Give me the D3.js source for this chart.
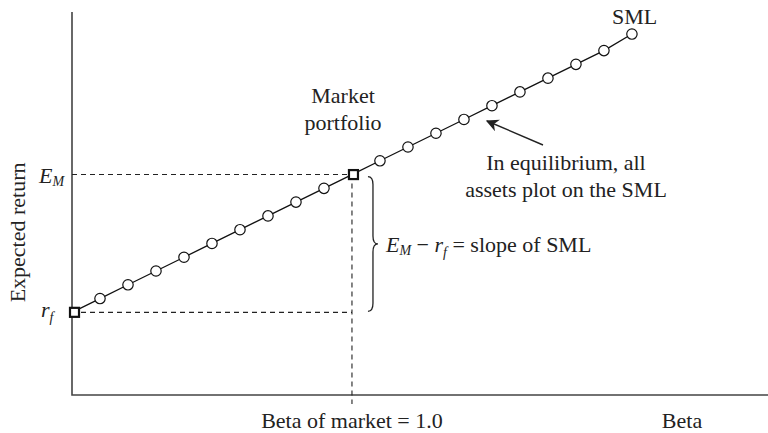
<!DOCTYPE html>
<html>
<head>
<meta charset="utf-8">
<title>Security Market Line</title>
<script src="https://d3js.org/d3.v7.min.js"></script>
<style>
  body { margin: 0; background: #fff; }
  svg { display: block; font-family: "Liberation Serif", "DejaVu Serif", serif; }
  .axis { stroke: #444; stroke-width: 1.6px; fill: none; }
  .guide { stroke: #222; stroke-width: 1.1px; stroke-dasharray: 5,4; fill: none; }
  .sml { stroke: #111; stroke-width: 1.3px; fill: none; }
  .asset { fill: #fff; stroke: #111; stroke-width: 1.2px; }
  .key { fill: #fff; stroke: #111; stroke-width: 2.2px; }
  text { fill: #222; font-size: 22px; }
</style>
</head>
<body>
<svg id="chart"></svg>
<script>
// values (arbitrary units)
const riskFree = 3;
const marketReturn = 8;
const marketBeta = 1.0;
const betas = [0, 0.1, 0.2, 0.3, 0.4, 0.5, 0.6, 0.7, 0.8, 0.9, 1.0,
               1.1, 1.2, 1.3, 1.4, 1.5, 1.6, 1.7, 1.8, 1.9, 2.0];
const returns = [3, 3.5, 4, 4.5, 5, 5.5, 6, 6.5, 7, 7.5, 8,
                 8.5, 9, 9.5, 10, 10.5, 11, 11.5, 12, 12.5, 13.1];

const width = 768, height = 433;
const svg = d3.select("#chart").attr("width", width).attr("height", height);

const x = d3.scaleLinear().domain([0, 2.486]).range([72, 768]);
const y = d3.scaleLinear().domain([0, 13.9]).range([395, 12]);

const pts = betas.map((b, i) => ({ beta: b, ret: returns[i] }));

// axes
svg.append("path").attr("class", "axis")
  .attr("d", `M${x(0)},${y(13.9)} V${y(0)} H${x(2.486)}`);

// dashed guides
svg.append("path").attr("class", "guide")
  .attr("d", `M${x(0)},${y(marketReturn)} H${x(marketBeta)}`);
svg.append("path").attr("class", "guide")
  .attr("d", `M${x(0)},${y(riskFree)} H${x(marketBeta)}`);
svg.append("path").attr("class", "guide")
  .attr("d", `M${x(marketBeta)},${y(marketReturn)} V${y(0) + 9}`);

// SML line
svg.append("path").attr("class", "sml")
  .attr("d", d3.line().x(d => x(d.beta)).y(d => y(d.ret))(pts));

// asset circles
svg.selectAll("circle.asset")
  .data(pts.filter(d => d.beta !== 0 && d.beta !== marketBeta))
  .enter().append("circle")
  .attr("class", "asset")
  .attr("cx", d => x(d.beta))
  .attr("cy", d => y(d.ret))
  .attr("r", 5.2);

// squares for r_f and market portfolio
svg.selectAll("rect.key")
  .data(pts.filter(d => d.beta === 0 || d.beta === marketBeta))
  .enter().append("rect")
  .attr("class", "key")
  .attr("x", d => x(d.beta) - 4 + (d.beta === 0 ? 2 : 1))
  .attr("y", d => y(d.ret) - 4.5)
  .attr("width", 9)
  .attr("height", 9);

// y axis labels
const em = svg.append("text").attr("x", 39).attr("y", y(marketReturn) + 8)
  .style("font-style", "italic");
em.append("tspan").text("E");
em.append("tspan").attr("dy", 3).style("font-size", "14px").text("M");

const rf = svg.append("text").attr("x", 41).attr("y", y(riskFree) + 5)
  .style("font-style", "italic");
rf.append("tspan").text("r");
rf.append("tspan").attr("dy", 5).style("font-size", "14px").text("f");

svg.append("text")
  .attr("transform", `translate(25,${y(5.9)}) rotate(-90)`)
  .attr("text-anchor", "middle")
  .text("Expected return");

// x axis labels
svg.append("text").attr("x", x(marketBeta)).attr("y", 428)
  .attr("text-anchor", "middle").text("Beta of market = 1.0");
svg.append("text").attr("x", 682).attr("y", 428)
  .attr("text-anchor", "middle").text("Beta");

// SML label
svg.append("text").attr("x", 612).attr("y", 24).text("SML");

// market portfolio label
svg.append("text").attr("x", 343).attr("y", 103).attr("text-anchor", "middle").text("Market");
svg.append("text").attr("x", 343).attr("y", 130).attr("text-anchor", "middle").text("portfolio");

// curly brace
const bx = x(marketBeta) + 16;
const yt = y(marketReturn) + 2, yb = y(riskFree) - 1, ym = (yt + yb) / 2;
svg.append("path")
  .attr("fill", "none").attr("stroke", "#222").attr("stroke-width", 1.3)
  .attr("d", `M${bx},${yt} Q${bx + 5},${yt} ${bx + 5},${yt + 8}
              V${ym - 8} Q${bx + 5},${ym} ${bx + 10},${ym}
              Q${bx + 5},${ym} ${bx + 5},${ym + 8}
              V${yb - 8} Q${bx + 5},${yb} ${bx},${yb}`);

// slope label
const sl = svg.append("text").attr("x", bx + 18).attr("y", ym + 8);
sl.append("tspan").style("font-style", "italic").text("E");
sl.append("tspan").attr("dy", 3).style("font-style", "italic").style("font-size", "14px").text("M");
sl.append("tspan").attr("dy", -3).text(" \u2212 ");
sl.append("tspan").style("font-style", "italic").text("r");
sl.append("tspan").attr("dy", 5).style("font-style", "italic").style("font-size", "14px").text("f");
sl.append("tspan").attr("dy", -5).text(" = slope of SML");

// equilibrium annotation with arrow
svg.append("defs").append("marker")
  .attr("id", "head").attr("viewBox", "0 0 10 10")
  .attr("refX", 9).attr("refY", 5)
  .attr("markerWidth", 11).attr("markerHeight", 9)
  .attr("orient", "auto")
  .append("path").attr("d", "M0,0 L10,5 L0,10 L3,5 Z").attr("fill", "#222");

svg.append("line")
  .attr("x1", 543).attr("y1", 145).attr("x2", 487).attr("y2", 121)
  .attr("stroke", "#222").attr("stroke-width", 1.4)
  .attr("marker-end", "url(#head)");

svg.append("text").attr("x", 566).attr("y", 170).attr("text-anchor", "middle")
  .text("In equilibrium, all");
svg.append("text").attr("x", 566).attr("y", 197).attr("text-anchor", "middle")
  .text("assets plot on the SML");
</script>
</body>
</html>
